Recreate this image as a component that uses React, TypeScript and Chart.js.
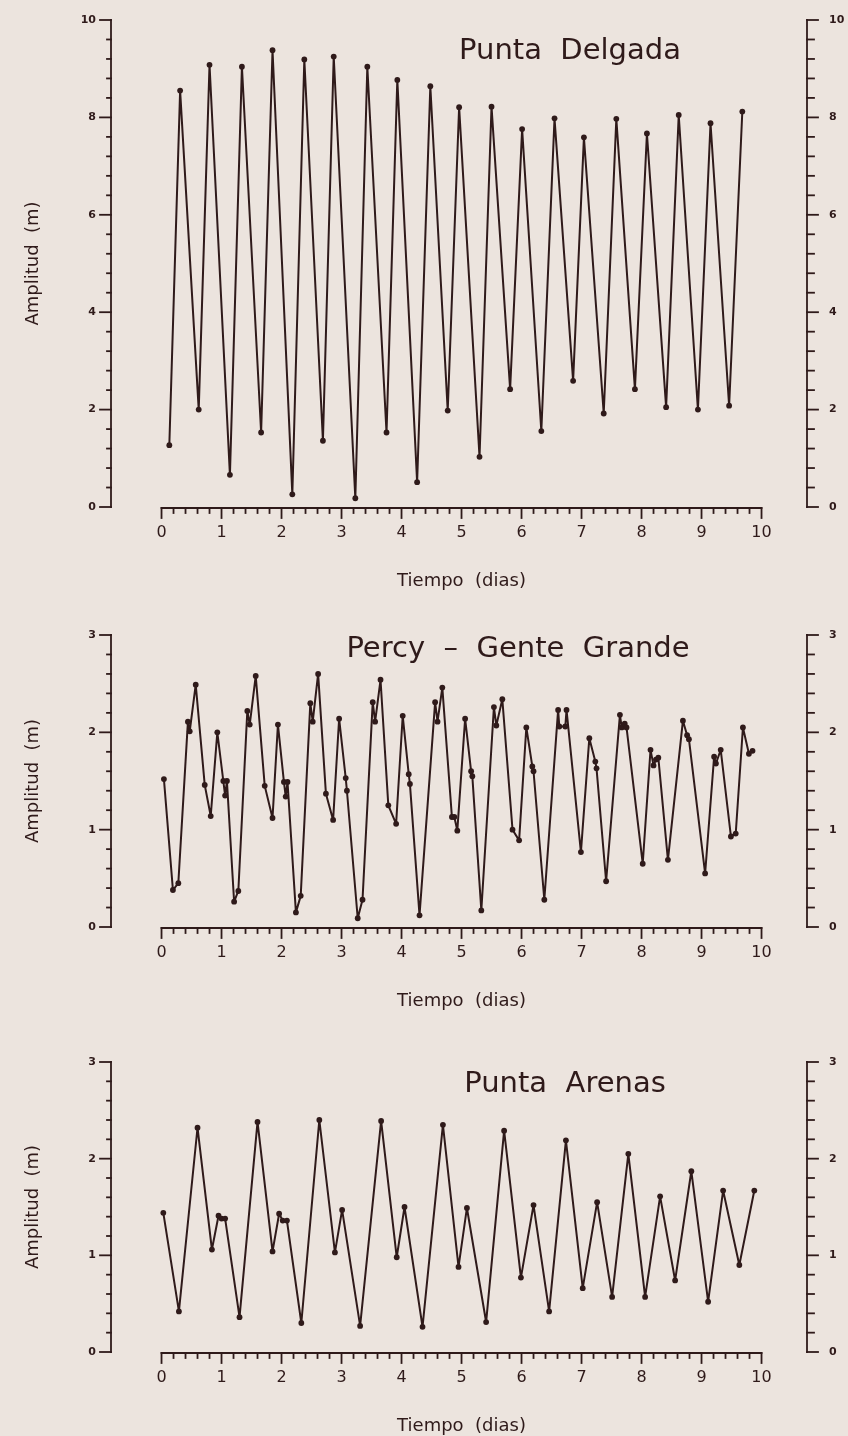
import React, { useEffect, useRef } from 'react';
import { Chart, registerables } from 'chart.js';

Chart.register(...registerables);

// ---------- DATA ----------
const delgadaTime = [0.13, 0.31, 0.62, 0.80, 1.14, 1.34, 1.66, 1.85, 2.18, 2.38, 2.69, 2.87, 3.23, 3.43, 3.75, 3.93, 4.26, 4.48, 4.77, 4.96, 5.30, 5.50, 5.81, 6.01, 6.33, 6.55, 6.86, 7.04, 7.37, 7.58, 7.89, 8.09, 8.41, 8.62, 8.94, 9.15, 9.46, 9.68];
const delgadaAmp = [1.27, 8.55, 2.00, 9.08, 0.66, 9.04, 1.53, 9.38, 0.26, 9.19, 1.36, 9.25, 0.18, 9.04, 1.53, 8.77, 0.51, 8.64, 1.98, 8.21, 1.03, 8.22, 2.42, 7.76, 1.56, 7.98, 2.59, 7.59, 1.92, 7.97, 2.42, 7.67, 2.05, 8.05, 2.00, 7.88, 2.08, 8.12];

const percyTime = [0.04, 0.19, 0.28, 0.44, 0.47, 0.57, 0.72, 0.82, 0.93, 1.03, 1.06, 1.09, 1.21, 1.28, 1.43, 1.47, 1.57, 1.72, 1.85, 1.94, 2.04, 2.07, 2.10, 2.24, 2.32, 2.48, 2.52, 2.61, 2.74, 2.86, 2.96, 3.07, 3.09, 3.27, 3.35, 3.52, 3.56, 3.65, 3.78, 3.91, 4.02, 4.12, 4.14, 4.30, 4.56, 4.60, 4.68, 4.84, 4.88, 4.93, 5.06, 5.16, 5.18, 5.33, 5.54, 5.58, 5.68, 5.85, 5.96, 6.08, 6.18, 6.20, 6.38, 6.61, 6.63, 6.73, 6.75, 6.99, 7.13, 7.23, 7.25, 7.41, 7.64, 7.67, 7.72, 7.75, 8.02, 8.15, 8.20, 8.24, 8.28, 8.44, 8.69, 8.76, 8.79, 9.06, 9.21, 9.24, 9.32, 9.49, 9.57, 9.69, 9.79, 9.85];
const percyAmp = [1.52, 0.38, 0.45, 2.11, 2.01, 2.49, 1.46, 1.14, 2.00, 1.50, 1.35, 1.50, 0.26, 0.37, 2.22, 2.08, 2.58, 1.45, 1.12, 2.08, 1.49, 1.34, 1.49, 0.15, 0.32, 2.30, 2.11, 2.60, 1.37, 1.10, 2.14, 1.53, 1.40, 0.09, 0.28, 2.31, 2.11, 2.54, 1.25, 1.06, 2.17, 1.57, 1.47, 0.12, 2.31, 2.11, 2.46, 1.13, 1.13, 0.99, 2.14, 1.60, 1.55, 0.17, 2.26, 2.07, 2.34, 1.00, 0.89, 2.05, 1.65, 1.60, 0.28, 2.23, 2.06, 2.06, 2.23, 0.77, 1.94, 1.70, 1.63, 0.47, 2.18, 2.05, 2.09, 2.05, 0.65, 1.82, 1.66, 1.72, 1.74, 0.69, 2.12, 1.97, 1.93, 0.55, 1.75, 1.68, 1.82, 0.93, 0.96, 2.05, 1.78, 1.81];

const arenasTime = [0.03, 0.29, 0.60, 0.84, 0.95, 1.00, 1.06, 1.30, 1.60, 1.85, 1.96, 2.02, 2.09, 2.33, 2.63, 2.89, 3.01, 3.31, 3.66, 3.92, 4.05, 4.35, 4.69, 4.95, 5.09, 5.41, 5.71, 5.99, 6.20, 6.46, 6.74, 7.02, 7.26, 7.51, 7.78, 8.06, 8.31, 8.56, 8.83, 9.11, 9.36, 9.63, 9.88];
const arenasAmp = [1.44, 0.42, 2.32, 1.06, 1.41, 1.38, 1.38, 0.36, 2.38, 1.04, 1.43, 1.36, 1.36, 0.30, 2.40, 1.03, 1.47, 0.27, 2.39, 0.98, 1.50, 0.26, 2.35, 0.88, 1.49, 0.31, 2.29, 0.77, 1.52, 0.42, 2.19, 0.66, 1.55, 0.57, 2.05, 0.57, 1.61, 0.74, 1.87, 0.52, 1.67, 0.90, 1.67];

const xTickLabels = [0, 1, 2, 3, 4, 5, 6, 7, 8, 9, 10];
const delgadaYTicks = [0, 2, 4, 6, 8, 10];
const percyYTicks = [0, 1, 2, 3];
const arenasYTicks = [0, 1, 2, 3];

const panelTitles = ['Punta  Delgada', 'Percy  –  Gente  Grande', 'Punta  Arenas'];
const xAxisTitle = 'Tiempo  (dias)';
const yAxisTitle = 'Amplitud  (m)';

// ---------- STYLE / LAYOUT ----------
const BG = '#ece4de';
const INK = '#2f1a1a';
const FONT = '"DejaVu Sans", "Liberation Sans", sans-serif';
const AXIS_LEFT = 111;
const AXIS_RIGHT = 807;
const X_MIN = -0.842;
const X_MAX = 10.758;

const panels = [
  { title: panelTitles[0], time: delgadaTime, amp: delgadaAmp, yTicks: delgadaYTicks, yMinor: 0.4, height: 600, padTop: 20, padBottom: 93, titleX: 570, titleY: 51 },
  { title: panelTitles[1], time: percyTime, amp: percyAmp, yTicks: percyYTicks, yMinor: 0.2, height: 420, padTop: 35, padBottom: 93, titleX: 518, titleY: 49 },
  { title: panelTitles[2], time: arenasTime, amp: arenasAmp, yTicks: arenasYTicks, yMinor: 0.2, height: 416, padTop: 42, padBottom: 84, titleX: 565, titleY: 64 },
];

const framePlugin = {
  id: 'frame',
  afterDraw(chart: any, _args: any, opts: any) {
    const p = opts.panel;
    const { ctx, chartArea } = chart;
    const xs = chart.scales.x;
    const ys = chart.scales.y;
    const L = chartArea.left;
    const R = chartArea.right;
    const y0 = ys.getPixelForValue(0);
    const yMax = p.yTicks[p.yTicks.length - 1];
    const yTop = ys.getPixelForValue(yMax);
    ctx.save();
    ctx.strokeStyle = INK;
    ctx.fillStyle = INK;
    ctx.lineWidth = 1.8;
    ctx.lineCap = 'square';
    const seg = (x1: number, y1: number, x2: number, y2: number) => {
      ctx.beginPath();
      ctx.moveTo(x1, y1);
      ctx.lineTo(x2, y2);
      ctx.stroke();
    };
    // left & right vertical axes
    seg(L, yTop, L, y0);
    seg(R, yTop, R, y0);
    const n = Math.round(yMax / p.yMinor);
    for (let k = 0; k <= n; k++) {
      const v = k * p.yMinor;
      const py = ys.getPixelForValue(v);
      const major = p.yTicks.some((t: number) => Math.abs(t - v) < 1e-6);
      seg(L - (major ? 11 : 4), py, L, py);
      seg(R, py, R + (major ? 11 : 7), py);
    }
    ctx.font = `bold 11px ${FONT}`;
    ctx.textBaseline = 'middle';
    p.yTicks.forEach((t: number) => {
      const py = ys.getPixelForValue(t);
      ctx.textAlign = 'right';
      ctx.fillText(String(t), L - 15, py);
      ctx.textAlign = 'left';
      ctx.fillText(String(t), R + 22, py);
    });
    // x axis
    const xa = xs.getPixelForValue(0);
    const xb = xs.getPixelForValue(10);
    const xl = y0 + 1;
    seg(xa, xl, xb, xl);
    for (let k = 0; k <= 50; k++) {
      const v = k * 0.2;
      const px = xs.getPixelForValue(v);
      const major = k % 5 === 0;
      seg(px, xl, px, xl + (major ? 10 : 5));
    }
    ctx.font = `16px ${FONT}`;
    ctx.textAlign = 'center';
    xTickLabels.forEach((t) => {
      ctx.fillText(String(t), xs.getPixelForValue(t), xl + 25);
    });
    ctx.font = `18px ${FONT}`;
    ctx.fillText(xAxisTitle, xs.getPixelForValue(5), xl + 73);
    // y title
    ctx.save();
    ctx.translate(33, (yTop + y0) / 2);
    ctx.rotate(-Math.PI / 2);
    ctx.fillText(yAxisTitle, 0, 0);
    ctx.restore();
    // panel title
    ctx.font = `29px ${FONT}`;
    ctx.fillText(p.title, p.titleX, p.titleY);
    ctx.restore();
  },
};

function Panel({ panel }: { panel: any }) {
  const ref = useRef<HTMLCanvasElement>(null);
  useEffect(() => {
    const canvas = ref.current;
    if (!canvas) return;
    const data = panel.time.map((t: number, i: number) => ({ x: t, y: panel.amp[i] }));
    const yMax = panel.yTicks[panel.yTicks.length - 1];
    const chart = new Chart(canvas, {
      type: 'line',
      data: {
        datasets: [
          {
            data,
            borderColor: INK,
            backgroundColor: INK,
            borderWidth: 2,
            borderJoinStyle: 'round',
            pointRadius: 2.9,
            pointBackgroundColor: INK,
            pointBorderWidth: 0,
            tension: 0,
            fill: false,
            clip: false,
          } as any,
        ],
      },
      options: {
        responsive: false,
        animation: false,
        devicePixelRatio: 1,
        layout: {
          padding: {
            left: AXIS_LEFT,
            right: 848 - AXIS_RIGHT,
            top: panel.padTop,
            bottom: panel.padBottom,
          },
        },
        scales: {
          x: { type: 'linear', min: X_MIN, max: X_MAX, display: false },
          y: { type: 'linear', min: 0, max: yMax, display: false },
        },
        plugins: {
          legend: { display: false },
          tooltip: { enabled: false },
          title: { display: false },
          frame: { panel },
        } as any,
      },
      plugins: [framePlugin],
    });
    return () => chart.destroy();
  }, [panel]);
  return <canvas ref={ref} width={848} height={panel.height} style={{ display: 'block', width: 848, height: panel.height }} />;
}

export default function App() {
  return (
    <div style={{ position: 'absolute', left: 0, top: 0, width: 848, height: 1436, background: BG, overflow: 'hidden' }}>
      {panels.map((p, i) => (
        <Panel key={i} panel={p} />
      ))}
    </div>
  );
}
